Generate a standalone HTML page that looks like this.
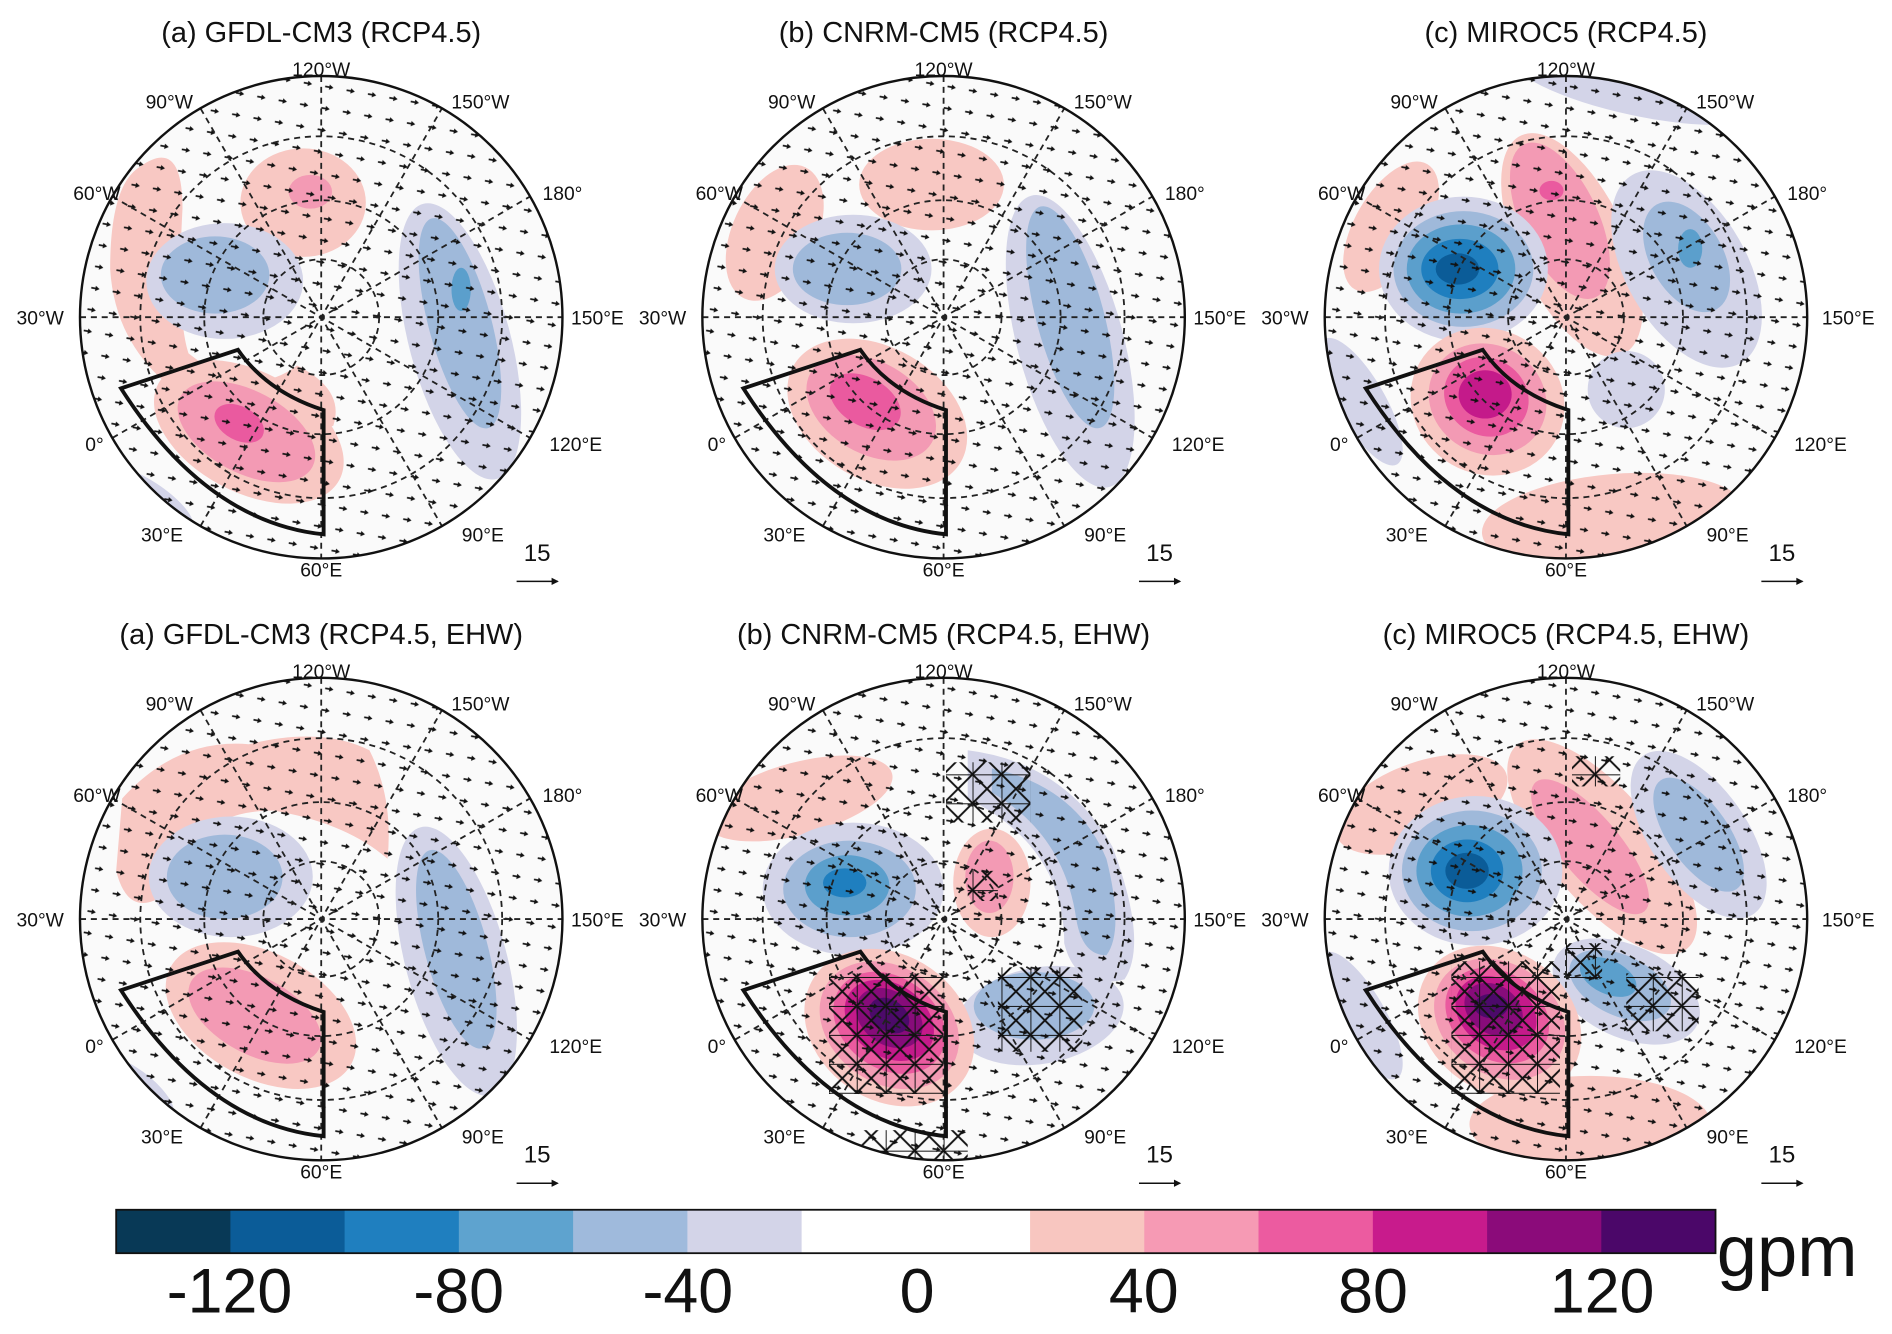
<!DOCTYPE html>
<html><head><meta charset="utf-8"><style>
html,body{margin:0;padding:0;background:#fff}
svg{display:block}
text{font-family:"Liberation Sans",sans-serif;fill:#111}
</style></head><body>
<svg width="1892" height="1334" viewBox="0 0 1568 1106" xmlns="http://www.w3.org/2000/svg">
<defs>
<pattern id="arr" width="18" height="18" patternUnits="userSpaceOnUse" patternTransform="rotate(10)">
<line x1="6" y1="9" x2="10" y2="9" stroke="#111" stroke-width="1.4"/>
<path d="M9.5 6.8 L13 9 L9.5 11.2Z" fill="#111"/>
</pattern>
<pattern id="hat" width="24" height="24" patternUnits="userSpaceOnUse">
<path d="M0 0H24M0 0V24M0 0L24 24M24 0L0 24" stroke="#111" stroke-width="1.6" fill="none"/>
</pattern>
<clipPath id="cc"><circle cx="0" cy="0" r="200"/></clipPath>
<g id="grat" fill="none" stroke="#222" stroke-width="1.5" stroke-dasharray="5,4">
<circle r="48"/><circle r="97"/><circle r="150"/>
<line x1="-200" y1="0" x2="200" y2="0"/>
<line x1="0" y1="-200" x2="0" y2="200"/>
<line x1="-173" y1="-100" x2="173" y2="100"/>
<line x1="-173" y1="100" x2="173" y2="-100"/>
<line x1="-100" y1="-173" x2="100" y2="173"/>
<line x1="-100" y1="173" x2="100" y2="-173"/>
</g>
<g id="fore">
<rect x="-200" y="-200" width="400" height="400" fill="url(#arr)" clip-path="url(#cc)"/>
<use href="#grat"/>
<circle r="200" fill="none" stroke="#111" stroke-width="2"/>
<path d="M-166 59 L-69 27 Q-45 62 2 77 L2 180 Q-95 170 -166 59Z" fill="none" stroke="#111" stroke-width="3.2"/>
<line x1="162" y1="219" x2="196" y2="219" stroke="#111" stroke-width="1.3"/>
<path d="M191 216 L197 219 L191 222Z" fill="#111"/>
</g>
<g id="bg"><circle r="200" fill="#fafafa"/></g>
</defs>

<!-- Panel top a -->
<g transform="translate(266,263)">
<use href="#bg"/>
<g clip-path="url(#cc)">
<path d="M-150 -125 Q-115 -150 -115 -90 Q-120 0 -110 30 Q-60 70 -20 40 Q20 60 10 90 Q-40 110 -90 80 Q-170 40 -175 -40 Q-175 -110 -150 -125Z" fill="#f8c8c3"/>
<ellipse cx="-15" cy="-95" rx="52" ry="45" fill="#f8c8c3"/>
<ellipse cx="-9" cy="-104" rx="18" ry="14" fill="#f39ab4"/>
<ellipse cx="-80" cy="-30" rx="65" ry="48" fill="#d3d4e8"/>
<ellipse cx="-88" cy="-35" rx="45" ry="32" fill="#9fb9da"/>
<ellipse cx="115" cy="20" rx="42" ry="118" transform="rotate(-15 115 20)" fill="#d3d4e8"/>
<ellipse cx="115" cy="5" rx="26" ry="90" transform="rotate(-15 115 5)" fill="#9fb9da"/>
<ellipse cx="116" cy="-23" rx="8" ry="18" fill="#5b9fcc"/>
<ellipse cx="-60" cy="95" rx="85" ry="50" transform="rotate(28 -60 95)" fill="#f8c8c3"/>
<ellipse cx="-62" cy="95" rx="62" ry="34" transform="rotate(28 -62 95)" fill="#f39ab4"/>
<ellipse cx="-68" cy="88" rx="22" ry="14" transform="rotate(28 -68 88)" fill="#ea5a9f"/>
<ellipse cx="-140" cy="150" rx="40" ry="12" transform="rotate(35 -140 150)" fill="#d3d4e8"/>
</g>
<use href="#fore"/>
</g>

<!-- Panel top b -->
<g transform="translate(782,263)">
<use href="#bg"/>
<g clip-path="url(#cc)">
<ellipse cx="-140" cy="-70" rx="35" ry="60" transform="rotate(25 -140 -70)" fill="#f8c8c3"/>
<ellipse cx="-10" cy="-110" rx="60" ry="38" fill="#f8c8c3"/>
<ellipse cx="-75" cy="-40" rx="65" ry="45" fill="#d3d4e8"/>
<ellipse cx="-80" cy="-40" rx="45" ry="30" fill="#9fb9da"/>
<ellipse cx="105" cy="20" rx="44" ry="125" transform="rotate(-15 105 20)" fill="#d3d4e8"/>
<ellipse cx="105" cy="0" rx="28" ry="95" transform="rotate(-15 105 0)" fill="#9fb9da"/>
<ellipse cx="-55" cy="80" rx="80" ry="55" transform="rotate(30 -55 80)" fill="#f8c8c3"/>
<ellipse cx="-60" cy="75" rx="58" ry="38" transform="rotate(30 -60 75)" fill="#f39ab4"/>
<ellipse cx="-65" cy="70" rx="32" ry="20" transform="rotate(30 -65 70)" fill="#ea5a9f"/>
</g>
<use href="#fore"/>
</g>

<!-- Panel top c -->
<g transform="translate(1298,263)">
<use href="#bg"/>
<g clip-path="url(#cc)">
<ellipse cx="60" cy="-195" rx="110" ry="28" transform="rotate(12 60 -195)" fill="#d3d4e8"/>
<ellipse cx="-145" cy="-75" rx="30" ry="60" transform="rotate(30 -145 -75)" fill="#f8c8c3"/>
<ellipse cx="5" cy="-60" rx="45" ry="100" transform="rotate(-25 5 -60)" fill="#f8c8c3"/>
<ellipse cx="-5" cy="-80" rx="32" ry="70" transform="rotate(-25 -5 -80)" fill="#f39ab4"/>
<ellipse cx="-12" cy="-105" rx="10" ry="8" fill="#ea5a9f"/>
<ellipse cx="-85" cy="-40" rx="70" ry="60" fill="#d3d4e8"/>
<ellipse cx="-85" cy="-40" rx="58" ry="48" fill="#9fb9da"/>
<ellipse cx="-87" cy="-40" rx="45" ry="37" fill="#5b9fcc"/>
<ellipse cx="-88" cy="-40" rx="32" ry="25" fill="#1f7fbf"/>
<ellipse cx="-90" cy="-40" rx="18" ry="13" fill="#0b5c98"/>
<ellipse cx="100" cy="-40" rx="50" ry="90" transform="rotate(-30 100 -40)" fill="#d3d4e8"/>
<ellipse cx="100" cy="-50" rx="30" ry="50" transform="rotate(-30 100 -50)" fill="#9fb9da"/>
<ellipse cx="103" cy="-57" rx="10" ry="16" fill="#5b9fcc"/>
<ellipse cx="50" cy="60" rx="32" ry="32" fill="#d3d4e8"/>
<ellipse cx="40" cy="170" rx="110" ry="40" transform="rotate(-5 40 170)" fill="#f8c8c3"/>
<ellipse cx="-65" cy="70" rx="65" ry="60" transform="rotate(30 -65 70)" fill="#f8c8c3"/>
<ellipse cx="-65" cy="68" rx="50" ry="45" transform="rotate(30 -65 68)" fill="#f39ab4"/>
<ellipse cx="-66" cy="66" rx="36" ry="32" transform="rotate(30 -66 66)" fill="#ea5a9f"/>
<ellipse cx="-67" cy="64" rx="22" ry="20" fill="#c41a8a"/>
<ellipse cx="-170" cy="70" rx="20" ry="60" transform="rotate(-30 -170 70)" fill="#d3d4e8"/>
</g>
<use href="#fore"/>
</g>

<!-- Panel bottom a -->
<g transform="translate(266,762)">
<use href="#bg"/>
<g clip-path="url(#cc)">
<path d="M-165 -100 Q-120 -150 -60 -145 Q0 -160 40 -140 Q60 -100 55 -50 Q20 -80 -40 -90 Q-110 -90 -130 -20 Q-160 0 -170 -40Z" fill="#f8c8c3"/>
<ellipse cx="-75" cy="-35" rx="68" ry="50" fill="#d3d4e8"/>
<ellipse cx="-80" cy="-35" rx="48" ry="35" fill="#9fb9da"/>
<ellipse cx="112" cy="35" rx="42" ry="115" transform="rotate(-15 112 35)" fill="#d3d4e8"/>
<ellipse cx="112" cy="25" rx="26" ry="85" transform="rotate(-15 112 25)" fill="#9fb9da"/>
<ellipse cx="-50" cy="80" rx="85" ry="52" transform="rotate(28 -50 80)" fill="#f8c8c3"/>
<ellipse cx="-55" cy="80" rx="60" ry="32" transform="rotate(28 -55 80)" fill="#f39ab4"/>
<ellipse cx="-150" cy="140" rx="35" ry="12" transform="rotate(40 -150 140)" fill="#d3d4e8"/>
</g>
<use href="#fore"/>
</g>

<!-- Panel bottom b -->
<g transform="translate(782,762)">
<use href="#bg"/>
<g clip-path="url(#cc)">
<ellipse cx="-120" cy="-100" rx="80" ry="30" transform="rotate(-15 -120 -100)" fill="#f8c8c3"/>
<path d="M20 -140 Q100 -130 140 -60 Q170 20 150 50 Q110 60 100 20 Q100 -60 20 -100Z" fill="#d3d4e8"/>
<path d="M40 -125 Q110 -110 135 -50 Q150 10 135 30 Q115 30 110 0 Q100 -70 40 -105Z" fill="#9fb9da"/>
<ellipse cx="-75" cy="-25" rx="75" ry="55" fill="#d3d4e8"/>
<ellipse cx="-78" cy="-25" rx="55" ry="40" fill="#9fb9da"/>
<ellipse cx="-80" cy="-28" rx="35" ry="25" fill="#5b9fcc"/>
<ellipse cx="-82" cy="-30" rx="18" ry="12" fill="#1f7fbf"/>
<ellipse cx="40" cy="-30" rx="32" ry="45" fill="#f8c8c3"/>
<ellipse cx="38" cy="-35" rx="20" ry="30" fill="#f39ab4"/>
<ellipse cx="80" cy="80" rx="70" ry="40" transform="rotate(-10 80 80)" fill="#d3d4e8"/>
<ellipse cx="75" cy="72" rx="50" ry="28" fill="#9fb9da"/>
<ellipse cx="-45" cy="90" rx="75" ry="60" transform="rotate(35 -45 90)" fill="#f8c8c3"/>
<ellipse cx="-45" cy="88" rx="62" ry="48" transform="rotate(35 -45 88)" fill="#f39ab4"/>
<ellipse cx="-45" cy="86" rx="50" ry="38" transform="rotate(35 -45 86)" fill="#ea5a9f"/>
<ellipse cx="-45" cy="84" rx="40" ry="30" transform="rotate(35 -45 84)" fill="#c41a8a"/>
<ellipse cx="-45" cy="82" rx="30" ry="22" transform="rotate(35 -45 82)" fill="#870c7a"/>
<ellipse cx="-45" cy="80" rx="18" ry="13" transform="rotate(35 -45 80)" fill="#4c0a6a"/>
<rect x="-95" y="45" width="95" height="100" fill="url(#hat)"/>
<rect x="45" y="40" width="70" height="70" fill="url(#hat)"/>
<rect x="2" y="-130" width="70" height="50" fill="url(#hat)"/>
<rect x="20" y="-40" width="25" height="25" fill="url(#hat)"/>
<rect x="-70" y="175" width="90" height="25" fill="url(#hat)"/>
</g>
<use href="#fore"/>
</g>

<!-- Panel bottom c -->
<g transform="translate(1298,762)">
<use href="#bg"/>
<g clip-path="url(#cc)">
<ellipse cx="-120" cy="-95" rx="75" ry="35" transform="rotate(-20 -120 -95)" fill="#f8c8c3"/>
<ellipse cx="30" cy="-60" rx="45" ry="110" transform="rotate(-40 30 -60)" fill="#f8c8c3"/>
<ellipse cx="20" cy="-60" rx="25" ry="70" transform="rotate(-40 20 -60)" fill="#f39ab4"/>
<ellipse cx="110" cy="-70" rx="40" ry="80" transform="rotate(-35 110 -70)" fill="#d3d4e8"/>
<ellipse cx="110" cy="-70" rx="25" ry="55" transform="rotate(-35 110 -70)" fill="#9fb9da"/>
<ellipse cx="-75" cy="-40" rx="72" ry="62" fill="#d3d4e8"/>
<ellipse cx="-78" cy="-40" rx="58" ry="50" fill="#9fb9da"/>
<ellipse cx="-80" cy="-40" rx="44" ry="38" fill="#5b9fcc"/>
<ellipse cx="-82" cy="-40" rx="30" ry="26" fill="#1f7fbf"/>
<ellipse cx="-82" cy="-40" rx="18" ry="15" fill="#0b5c98"/>
<ellipse cx="50" cy="60" rx="65" ry="38" transform="rotate(25 50 60)" fill="#d3d4e8"/>
<ellipse cx="45" cy="55" rx="45" ry="25" transform="rotate(25 45 55)" fill="#9fb9da"/>
<ellipse cx="35" cy="48" rx="25" ry="14" transform="rotate(25 35 48)" fill="#5b9fcc"/>
<ellipse cx="20" cy="170" rx="100" ry="40" fill="#f8c8c3"/>
<ellipse cx="-55" cy="85" rx="72" ry="58" transform="rotate(35 -55 85)" fill="#f8c8c3"/>
<ellipse cx="-55" cy="83" rx="58" ry="46" transform="rotate(35 -55 83)" fill="#f39ab4"/>
<ellipse cx="-57" cy="80" rx="46" ry="36" transform="rotate(35 -57 80)" fill="#ea5a9f"/>
<ellipse cx="-58" cy="78" rx="36" ry="28" transform="rotate(35 -58 78)" fill="#c41a8a"/>
<ellipse cx="-60" cy="75" rx="26" ry="20" transform="rotate(35 -60 75)" fill="#870c7a"/>
<ellipse cx="-62" cy="72" rx="14" ry="10" fill="#4c0a6a"/>
<ellipse cx="-170" cy="80" rx="20" ry="60" transform="rotate(-30 -170 80)" fill="#d3d4e8"/>
<rect x="-95" y="35" width="90" height="110" fill="url(#hat)"/>
<rect x="50" y="45" width="60" height="48" fill="url(#hat)"/>
<rect x="0" y="20" width="30" height="30" fill="url(#hat)"/>
<rect x="5" y="-135" width="40" height="25" fill="url(#hat)"/>
</g>
<use href="#fore"/>
</g>

<!-- Titles -->
<g font-size="24" text-anchor="middle">
<text x="266" y="35">(a) GFDL-CM3 (RCP4.5)</text>
<text x="782" y="35">(b) CNRM-CM5 (RCP4.5)</text>
<text x="1298" y="35">(c) MIROC5 (RCP4.5)</text>
<text x="266" y="534">(a) GFDL-CM3 (RCP4.5, EHW)</text>
<text x="782" y="534">(b) CNRM-CM5 (RCP4.5, EHW)</text>
<text x="1298" y="534">(c) MIROC5 (RCP4.5, EHW)</text>
</g>

<!-- Lon labels -->
<g font-size="16" text-anchor="middle">
<g transform="translate(266,263)">
<text x="0" y="-200">120°W</text><text x="132" y="-173">150°W</text><text x="200" y="-97">180°</text>
<text x="229" y="6">150°E</text><text x="211" y="111">120°E</text><text x="134" y="186">90°E</text>
<text x="0" y="215">60°E</text><text x="-132" y="186">30°E</text><text x="-188" y="111">0°</text>
<text x="-233" y="6">30°W</text><text x="-186" y="-97">60°W</text><text x="-126" y="-173">90°W</text>
<text x="179" y="202" font-size="20">15</text>
</g>
<g transform="translate(782,263)">
<text x="0" y="-200">120°W</text><text x="132" y="-173">150°W</text><text x="200" y="-97">180°</text>
<text x="229" y="6">150°E</text><text x="211" y="111">120°E</text><text x="134" y="186">90°E</text>
<text x="0" y="215">60°E</text><text x="-132" y="186">30°E</text><text x="-188" y="111">0°</text>
<text x="-233" y="6">30°W</text><text x="-186" y="-97">60°W</text><text x="-126" y="-173">90°W</text>
<text x="179" y="202" font-size="20">15</text>
</g>
<g transform="translate(1298,263)">
<text x="0" y="-200">120°W</text><text x="132" y="-173">150°W</text><text x="200" y="-97">180°</text>
<text x="234" y="6">150°E</text><text x="211" y="111">120°E</text><text x="134" y="186">90°E</text>
<text x="0" y="215">60°E</text><text x="-132" y="186">30°E</text><text x="-188" y="111">0°</text>
<text x="-233" y="6">30°W</text><text x="-186" y="-97">60°W</text><text x="-126" y="-173">90°W</text>
<text x="179" y="202" font-size="20">15</text>
</g>
<g transform="translate(266,762)">
<text x="0" y="-200">120°W</text><text x="132" y="-173">150°W</text><text x="200" y="-97">180°</text>
<text x="229" y="6">150°E</text><text x="211" y="111">120°E</text><text x="134" y="186">90°E</text>
<text x="0" y="215">60°E</text><text x="-132" y="186">30°E</text><text x="-188" y="111">0°</text>
<text x="-233" y="6">30°W</text><text x="-186" y="-97">60°W</text><text x="-126" y="-173">90°W</text>
<text x="179" y="202" font-size="20">15</text>
</g>
<g transform="translate(782,762)">
<text x="0" y="-200">120°W</text><text x="132" y="-173">150°W</text><text x="200" y="-97">180°</text>
<text x="229" y="6">150°E</text><text x="211" y="111">120°E</text><text x="134" y="186">90°E</text>
<text x="0" y="215">60°E</text><text x="-132" y="186">30°E</text><text x="-188" y="111">0°</text>
<text x="-233" y="6">30°W</text><text x="-186" y="-97">60°W</text><text x="-126" y="-173">90°W</text>
<text x="179" y="202" font-size="20">15</text>
</g>
<g transform="translate(1298,762)">
<text x="0" y="-200">120°W</text><text x="132" y="-173">150°W</text><text x="200" y="-97">180°</text>
<text x="234" y="6">150°E</text><text x="211" y="111">120°E</text><text x="134" y="186">90°E</text>
<text x="0" y="215">60°E</text><text x="-132" y="186">30°E</text><text x="-188" y="111">0°</text>
<text x="-233" y="6">30°W</text><text x="-186" y="-97">60°W</text><text x="-126" y="-173">90°W</text>
<text x="179" y="202" font-size="20">15</text>
</g>
</g>

<!-- Colorbar -->
<g>
<rect x="96" y="1003" width="95" height="36" fill="#083956"/>
<rect x="190.7" y="1003" width="95" height="36" fill="#0b5c98"/>
<rect x="285.4" y="1003" width="95" height="36" fill="#1f7fbf"/>
<rect x="380.1" y="1003" width="95" height="36" fill="#5ea3cf"/>
<rect x="474.9" y="1003" width="95" height="36" fill="#9fbadc"/>
<rect x="569.6" y="1003" width="95" height="36" fill="#d3d4e8"/>
<rect x="664.3" y="1003" width="190" height="36" fill="#ffffff"/>
<rect x="853.7" y="1003" width="95" height="36" fill="#f8c6c0"/>
<rect x="948.4" y="1003" width="95" height="36" fill="#f69ab4"/>
<rect x="1043.1" y="1003" width="95" height="36" fill="#ec5ba0"/>
<rect x="1137.9" y="1003" width="95" height="36" fill="#c81b8c"/>
<rect x="1232.6" y="1003" width="95" height="36" fill="#8b0b7a"/>
<rect x="1327.3" y="1003" width="94.7" height="36" fill="#4b0769"/>
<rect x="96" y="1003" width="1326" height="36" fill="none" stroke="#111" stroke-width="1.5"/>
</g>
<g font-size="52" text-anchor="middle">
<text x="190" y="1088">-120</text>
<text x="380" y="1088">-80</text>
<text x="570" y="1088">-40</text>
<text x="760" y="1088">0</text>
<text x="948" y="1088">40</text>
<text x="1138" y="1088">80</text>
<text x="1328" y="1088">120</text>
</g>
<text x="1423" y="1058" font-size="60">gpm</text>
</svg>
</body></html>
